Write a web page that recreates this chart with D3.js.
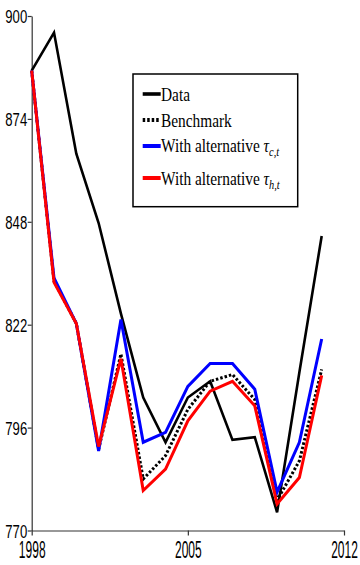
<!DOCTYPE html>
<html>
<head>
<meta charset="utf-8">
<script src="https://cdn.jsdelivr.net/npm/d3@7"></script>
<style>
  body { margin: 0; background: #fff; }
  svg { display: block; }
</style>
</head>
<body>
<svg id="chart" width="360" height="565"></svg>
<script>
// ------------------------------------------------------------------
// data

const years = [1998, 1999, 2000, 2001, 2002, 2003, 2004, 2005, 2006, 2007, 2008, 2009, 2010, 2011];
const dataSeries = [886.2, 895.8, 865.2, 847.7, 824.8, 803.6, 792.3, 803.6, 807.7, 792.9, 793.6, 774.6, 810.0, 844.4];
const benchmark = [886.2, 833.0, 822.3, 790.5, 814.6, 783.0, 788.9, 800.6, 807.7, 809.4, 803.1, 777.6, 787.6, 810.7];
const altTauC = [886.2, 833.8, 822.3, 790.1, 823.3, 792.3, 794.8, 806.4, 812.2, 812.2, 805.7, 779.7, 792.3, 818.4];
const altTauH = [886.2, 832.7, 822.3, 791.2, 813.4, 780.1, 785.5, 797.7, 805.2, 807.7, 801.5, 776.7, 783.4, 809.2];

const xTicks = [1998, 2005, 2012];
const yTicks = [770, 796, 822, 848, 874, 900];

const svg = d3.select("#chart");

const x = d3.scaleLinear().domain([1998, 2012]).range([31.7, 344]);
const y = d3.scaleLinear().domain([770, 900]).range([530.5, 16]);

// ------------------------------------------------------------------
// axes

const yAxis = svg.append("g")
    .attr("transform", "translate(31.7,0)")
    .call(d3.axisLeft(y).tickValues(yTicks).tickSize(4).tickSizeOuter(0).tickFormat(d3.format("d")));

const xAxis = svg.append("g")
    .attr("transform", "translate(0,530.5)")
    .call(d3.axisBottom(x).tickValues(xTicks).tickSize(5).tickSizeOuter(0).tickFormat(d3.format("d")));

[yAxis, xAxis].forEach(a => {
    a.select(".domain").attr("stroke", "#333").attr("stroke-width", 1.2);
    a.selectAll(".tick line").attr("stroke", "#333").attr("stroke-width", 1.2);
    a.selectAll(".tick text")
        .attr("fill", "#000")
        .style("font-family", "'Liberation Sans', Arial, sans-serif");
});

// squeeze the tick labels, they look like a narrow font in the original
yAxis.selectAll(".tick text")
    .attr("x", null).attr("dy", null)
    .attr("text-anchor", "end")
    .style("font-size", "18.5px")
    .attr("transform", "translate(-4.5,6.5) scale(0.71,1)");

xAxis.selectAll(".tick text")
    .attr("y", null).attr("dy", null)
    .attr("text-anchor", "middle")
    .style("font-size", "24px")
    .attr("transform", "translate(0,27.5) scale(0.5,1)");

// ------------------------------------------------------------------
// lines

const line = d3.line()
    .x((d, i) => x(years[i]))
    .y(d => y(d));

const series = [
    { values: dataSeries, color: "#000", width: 2.6, dash: null },
    { values: benchmark, color: "#000", width: 3, dash: "2.5,2" },
    { values: altTauC, color: "#0000ff", width: 3, dash: null },
    { values: altTauH, color: "#ff0000", width: 3, dash: null }
];

svg.append("g")
    .selectAll("path")
    .data(series)
    .join("path")
    .attr("d", d => line(d.values))
    .attr("fill", "none")
    .attr("stroke", d => d.color)
    .attr("stroke-width", d => d.width)
    .attr("stroke-dasharray", d => d.dash);

// ------------------------------------------------------------------
// legend

const legend = svg.append("g");

legend.append("rect")
    .attr("x", 133).attr("y", 74)
    .attr("width", 164.7).attr("height", 132.7)
    .attr("fill", "#fff")
    .attr("stroke", "#000")
    .attr("stroke-width", 1.5);

const legendRows = [
    { label: "Data", sub: null, lineY: 94, textY: 101, s: series[0] },
    { label: "Benchmark", sub: null, lineY: 120, textY: 127, s: series[1] },
    { label: "With alternative ", sub: "c,t", lineY: 146, textY: 152, s: series[2] },
    { label: "With alternative ", sub: "h,t", lineY: 178, textY: 185, s: series[3] }
];

legendRows.forEach(r => {
    legend.append("line")
        .attr("x1", 142.7).attr("x2", 160.7)
        .attr("y1", r.lineY).attr("y2", r.lineY)
        .attr("stroke", r.s.color)
        .attr("stroke-width", r.s.width + 1)
        .attr("stroke-dasharray", r.s.dash);

    const t = legend.append("text")
        .attr("transform", "translate(161," + r.textY + ") scale(0.83,1)")
        .style("font-family", "'Liberation Serif', 'Times New Roman', serif")
        .style("font-size", "18.5px")
        .attr("fill", "#000");
    t.append("tspan").text(r.label);
    if (r.sub) {
        t.append("tspan").style("font-style", "italic").text("τ");
        t.append("tspan")
            .style("font-style", "italic")
            .style("font-size", "12.5px")
            .attr("dy", 4)
            .text(r.sub);
    }
});
</script>
</body>
</html>
